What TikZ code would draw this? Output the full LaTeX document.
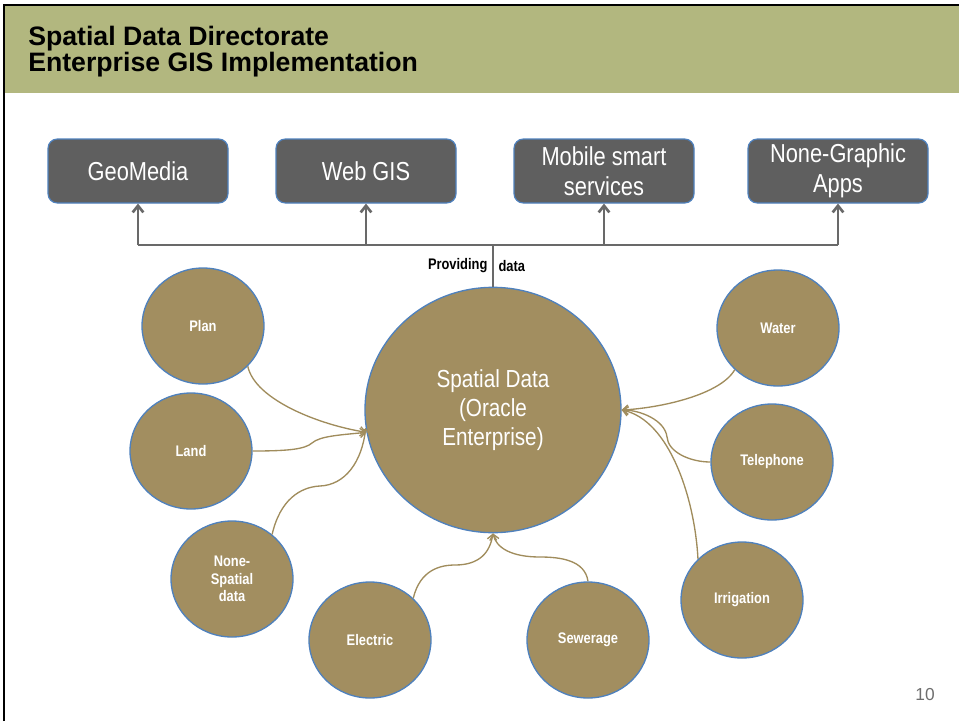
\documentclass[tikz,border=0pt]{standalone}
\usepackage{fontspec}
\setmainfont{Liberation Sans}
\newfontfamily\narrowfont{Liberation Sans}[FakeStretch=0.84]
\usetikzlibrary{arrows.meta,shapes.geometric,calc}
\definecolor{headgreen}{RGB}{178,183,127}
\definecolor{appgray}{RGB}{95,95,95}
\definecolor{linkgray}{RGB}{105,105,105}
\definecolor{olive}{RGB}{162,142,96}
\definecolor{rimblue}{RGB}{79,129,189}
\definecolor{feedcol}{RGB}{160,140,92}
\definecolor{pagegray}{RGB}{110,110,110}

\begin{document}
\begin{tikzpicture}[x=0.75pt,y=-0.75pt,
  appbox/.style={draw=rimblue,line width=0.9pt,fill=appgray,rounded corners=7pt,
    minimum width=135pt,minimum height=48pt,text=white,align=center,
    font=\narrowfont\fontsize{19.5}{22.5}\selectfont},
  layer/.style={ellipse,draw=rimblue,line width=1pt,fill=olive,
    minimum width=91.5pt,minimum height=87pt,inner sep=0pt,text=white,align=center,
    font=\narrowfont\bfseries\fontsize{11.5}{13.3}\selectfont},
  core/.style={layer,minimum width=192pt,minimum height=184pt,
    font=\narrowfont\fontsize{18.5}{22}\selectfont},
  feed/.style={draw=linkgray,line width=2.2pt},
  feedup/.style={feed,-{Straight Barb[length=5pt,width=8pt,line width=2pt]}},
  link/.style={draw=feedcol,line width=1pt,-{Straight Barb[length=4pt,width=7pt]}},
  tag/.style={inner sep=1pt,font=\narrowfont\bfseries\fontsize{11.5}{13}\selectfont}]
\useasboundingbox (0,0) rectangle (959,721);
%%
  % Header
  \fill[headgreen] (5,6) rectangle (959,93);
  \draw[line width=2pt] (4,721) -- (4,5) -- (959,5);
  \node[anchor=west,align=left,inner sep=0pt,font=\bfseries\fontsize{20}{17.5}\selectfont]
    (title) at (28,52) {Spatial Data Directorate\\Enterprise GIS Implementation};
  % Node: apps
  \node[appbox] (geomedia) at (138,171) {GeoMedia};
  \node[appbox] (webgis) at (366,171) {Web GIS};
  \node[appbox] (mobile) at (604,171) {Mobile smart\\services};
  \node[appbox] (nongraphic) at (838,171) {None-Graphic\\Apps};
  % Node: core
  \node[core] (core) at (493,410) {Spatial Data\\(Oracle\\Enterprise)};
  % Node: layers
  \node[layer] (plan) at (203,326) {Plan};
  \node[layer] (land) at (191,451) {Land};
  \node[layer] (nonspatial) at (232,579) {None-\\Spatial\\data};
  \node[layer] (electric) at (370,640) {Electric};
  \node[layer] (sewerage) at (588,640) {Sewerage};
  \node[layer] (irrigation) at (742,600) {Irrigation};
  \node[layer] (telephone) at (772,462) {Telephone};
  \node[layer] (water) at (778,328) {Water};
  % Edge: core -> apps
  \coordinate (hub) at (493,245);
  \draw[feed] (core.north) -- (hub);
  \draw[feed] (geomedia.south |- hub) -- (nongraphic.south |- hub);
  \foreach \app in {geomedia,webgis,mobile,nongraphic}
    \draw[feedup] (\app.south |- hub) -- (\app.south);
  \node[tag,anchor=east] (providing) at (489,266) {Providing};
  \node[tag,anchor=west] (providedata) at (497,266) {data};
  % Edge: plan -> core
  \draw[link] (plan.-42) .. controls (255,400) and (320,425) .. (core.190);
  % Edge: land -> core
  \draw[link] (land.east) .. controls (290,451) and (305,449) .. (312,443)
    .. controls (320,436) and (340,435) .. (core.190);
  % Edge: nonspatial -> core
  \draw[link] (nonspatial.48) .. controls (280,500) and (300,487) .. (320,486)
    .. controls (345,485) and (362,462) .. (core.188);
  % Edge: electric -> core
  \draw[link] (electric.44) .. controls (420,570) and (440,565) .. (455,565)
    .. controls (480,565) and (490,552) .. (core.south);
  % Edge: sewerage -> core
  \draw[link] (sewerage.north) .. controls (585,560) and (560,557) .. (540,557)
    .. controls (510,557) and (496,547) .. (core.south);
  % Edge: water -> core
  \draw[link] (water.-136) .. controls (720,395) and (660,408) .. (core.east);
  % Edge: telephone -> core
  \draw[link] (telephone.west) .. controls (690,462) and (668,452) .. (667,437)
    .. controls (665,420) and (640,410) .. (core.east);
  % Edge: irrigation -> core
  \draw[link] (irrigation.137) .. controls (695,500) and (670,420) .. (core.east);
  % Page number
  \node[text=pagegray,font=\fontsize{13}{15}\selectfont] (pagenum) at (925,695) {10};
%
\end{tikzpicture}
\end{document}
